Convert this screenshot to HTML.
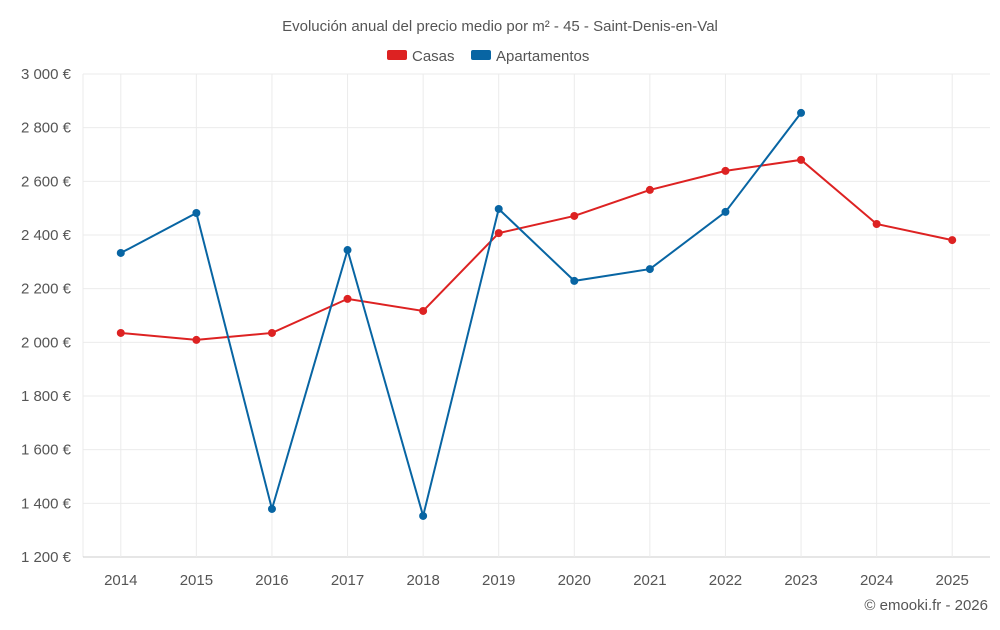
<!DOCTYPE html>
<html><head><meta charset="utf-8"><style>
body{margin:0;background:#fff;font-family:"Liberation Sans",sans-serif;}
svg text{font-family:"Liberation Sans",sans-serif;fill:#555;}
</style></head><body>
<svg id="chart" width="1000" height="625">
<text x="500" y="31" text-anchor="middle" font-size="15">Evolución anual del precio medio por m² - 45 - Saint-Denis-en-Val</text>
<g>
<g><rect x="387" y="50" width="20" height="10" rx="2" fill="#dd2222"></rect><text x="412" y="61" font-size="15">Casas</text></g>
<g><rect x="471" y="50" width="20" height="10" rx="2" fill="#0865a3"></rect><text x="496" y="61" font-size="15">Apartamentos</text></g>
</g>
<g id="grid"></g><g id="axes"></g><g id="series"></g>
<text x="988" y="610" text-anchor="end" font-size="15">© emooki.fr - 2026</text>
</svg>
<script>
const years=["2014","2015","2016","2017","2018","2019","2020","2021","2022","2023","2024","2025"];
const casas=[2035,2009,2035,2162,2117,2407,2471,2568,2639,2680,2441,2381];
const apartamentos=[2333,2482,1379,2344,1353,2497,2229,2273,2486,2855,null,null];
const yTicks=[1200,1400,1600,1800,2000,2200,2400,2600,2800,3000];
const yTickLabels=["1 200 €","1 400 €","1 600 €","1 800 €","2 000 €","2 200 €","2 400 €","2 600 €","2 800 €","3 000 €"];
const L=83,R=990,T=74,B=557,yMin=1200,yMax=3000;
const bw=(R-L)/years.length;
const x=i=>L+bw*(i+0.5);
const y=v=>B-(v-yMin)/(yMax-yMin)*(B-T);
const NS="http://www.w3.org/2000/svg";
function mk(tag,attrs,parent){const e=document.createElementNS(NS,tag);for(const k in attrs)e.setAttribute(k,attrs[k]);document.getElementById(parent).appendChild(e);return e;}
mk("line",{x1:L,x2:L,y1:T,y2:B,stroke:"#ebebeb"},"grid");
yTicks.forEach((t,i)=>{
 const g=mk("line",{x1:L,x2:R,y1:y(t),y2:y(t),stroke:i==0?"#ccc":"#ebebeb","stroke-width":1},"grid");
 
 
 const tx=mk("text",{x:L-12,y:y(t)+5,"text-anchor":"end","font-size":15},"axes");
 tx.textContent=yTickLabels[i];
 
 
});
years.forEach((yr,i)=>{
 const g=mk("line",{x1:x(i),x2:x(i),y1:T,y2:B,stroke:"#ebebeb"},"grid");
 
 
 const tx=mk("text",{x:x(i),y:585,"text-anchor":"middle","font-size":15},"axes");
 tx.textContent=yr;
 
 
});
function drawSeries(vals,color,name){
 let d="";vals.forEach((v,i)=>{if(v==null)return;d+=(d?"L":"M")+x(i)+","+y(v);});
 const p=mk("path",{d:d,fill:"none",stroke:color,"stroke-width":2},"series");
 
 
 vals.forEach((v,i)=>{if(v==null)return;
  const c=mk("circle",{cx:x(i),cy:y(v),r:4,fill:color},"series");
  
  
 });
}
drawSeries(casas,"#dd2222","casas");
drawSeries(apartamentos,"#0865a3","apartamentos");
</script>
</body></html>
